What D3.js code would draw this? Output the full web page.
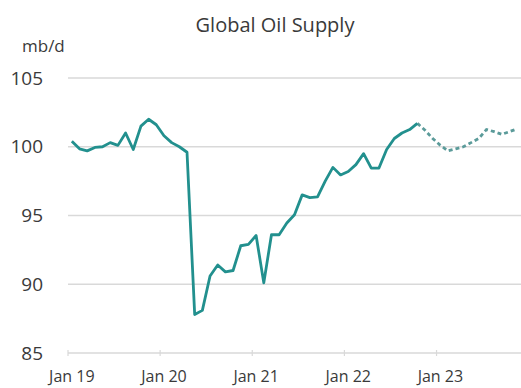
<!DOCTYPE html>
<html>
<head>
<meta charset="utf-8">
<script src="https://cdn.jsdelivr.net/npm/d3@7"></script>
<style>
	body { margin: 0; background: #fff; }
	text { font-family: "Open Sans", "Noto Sans", sans-serif; fill: #3a3a3a; }
</style>
</head>
<body>
<svg id="chart" width="521" height="388"></svg>
<script>
// monthly categories, Jan 2019 .. Nov 2023
var months = d3.timeMonth.range(new Date(2019, 0, 1), new Date(2023, 11, 1));

// actual supply, Jan 2019 .. Oct 2022 (mb/d)
var actual = [
	100.4, 99.85, 99.7, 99.95, 100.0, 100.3, 100.1, 101.0, 99.8, 101.5, 102.0, 101.6,
	100.8, 100.3, 100.0, 99.6, 87.8, 88.1, 90.6, 91.4, 90.9, 91.0, 92.8, 92.9,
	93.55, 90.1, 93.6, 93.6, 94.45, 95.05, 96.5, 96.3, 96.35, 97.5, 98.5, 97.95,
	98.2, 98.7, 99.5, 98.45, 98.45, 99.8, 100.6, 101.0, 101.25, 101.7
];

// forecast, Oct 2022 .. Nov 2023 (mb/d)
var forecast = [
	101.7, 101.2, 100.6, 100.1, 99.7, 99.85, 100.0, 100.3, 100.6, 101.25, 101.1, 100.9, 101.1, 101.3
];

var yTicks = [85, 90, 95, 100, 105];
var xTickLabels = ["Jan 19", "Jan 20", "Jan 21", "Jan 22", "Jan 23"];

var svg = d3.select("#chart"),
	width = +svg.attr("width"),
	height = +svg.attr("height"),
	margin = { top: 78, left: 68, right: 0, bottom: 35 };

var x = d3.scalePoint()
	.domain(d3.range(months.length))
	.range([margin.left, width - margin.right])
	.padding(0.5);
var step = x.step();

var y = d3.scaleLinear()
	.domain([85, 105])
	.range([height - margin.bottom, margin.top]);

// title and unit
svg.append("text")
	.attr("x", 275).attr("y", 32)
	.attr("text-anchor", "middle")
	.style("font-size", "20px")
	.text("Global Oil Supply");
svg.append("text")
	.attr("x", 22).attr("y", 52)
	.style("font-size", "17px")
	.text("mb/d");

// gridlines + y labels
var g_grid = svg.append("g");
g_grid.selectAll("line").data(yTicks).enter().append("line")
	.attr("x1", margin.left).attr("x2", width - margin.right)
	.attr("y1", function(d) { return y(d); })
	.attr("y2", function(d) { return y(d); })
	.attr("stroke", "#d9d9d9")
	.attr("stroke-width", 1.5);
g_grid.selectAll("text").data(yTicks).enter().append("text")
	.attr("x", 43)
	.attr("y", function(d) { return y(d); })
	.attr("dy", "0.35em")
	.attr("text-anchor", "end")
	.style("font-size", "19px")
	.text(function(d) { return d; });

// x axis: ticks between categories, labels on January
var janIdx = [];
months.forEach(function(m, i) { if (m.getMonth() == 0) janIdx.push(i); });
var g_x = svg.append("g");
g_x.selectAll("line").data(janIdx).enter().append("line")
	.attr("x1", function(d) { return x(d) - step / 2; })
	.attr("x2", function(d) { return x(d) - step / 2; })
	.attr("y1", y(85) - 3).attr("y2", y(85) + 3)
	.attr("stroke", "#d9d9d9")
	.attr("stroke-width", 1.2);
g_x.selectAll("text").data(janIdx).enter().append("text")
	.attr("x", function(d) { return x(d); })
	.attr("y", 382)
	.attr("text-anchor", "middle")
	.style("font-size", "16px")
	.text(function(d, i) { return xTickLabels[i]; });

var line = d3.line()
	.x(function(d) { return x(d.i); })
	.y(function(d) { return y(d.v); });

var actualPts = actual.map(function(v, i) { return { i: i, v: v }; });
var offset = actual.length - 1;
var forecastPts = forecast.map(function(v, i) { return { i: i + offset, v: v }; });

svg.append("path")
	.attr("d", line(forecastPts))
	.attr("fill", "none")
	.attr("stroke", "#5b9b9a")
	.attr("stroke-width", 2.8)
	.attr("stroke-dasharray", "4,3");

svg.append("path")
	.attr("d", line(actualPts))
	.attr("fill", "none")
	.attr("stroke", "#22908e")
	.attr("stroke-width", 2.8)
	.attr("stroke-linejoin", "round");
</script>
</body>
</html>
